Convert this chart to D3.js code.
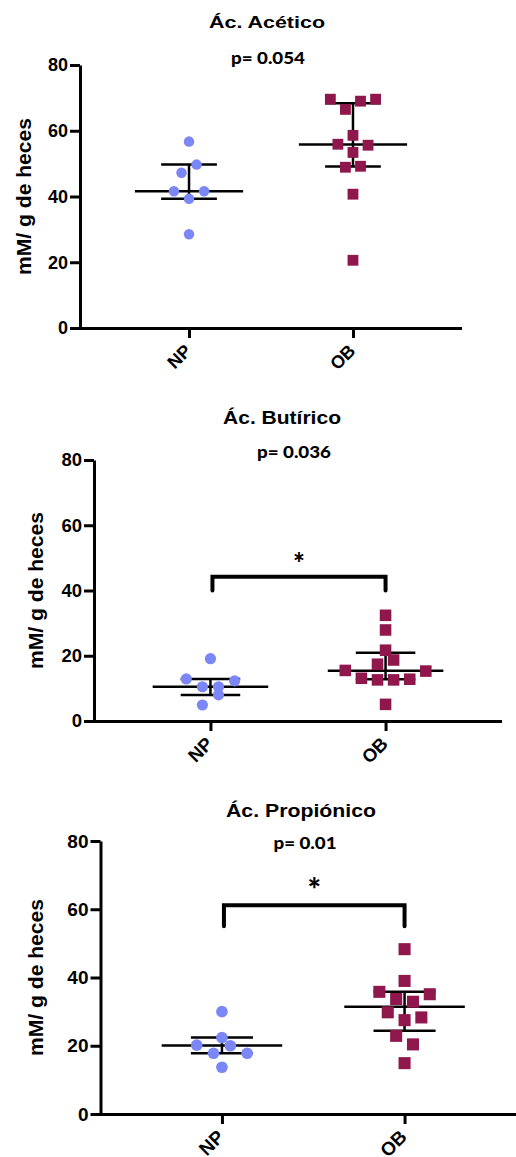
<!DOCTYPE html>
<html>
<head>
<meta charset="utf-8">
<script src="https://cdn.jsdelivr.net/npm/d3@7"></script>
<style>
body { margin: 0; background: #fff; }
svg { display: block; }
text { font-family: "Liberation Sans", Arial, sans-serif; font-weight: bold; fill: #000; }
</style>
</head>
<body>
<div id="chart"></div>
<script>
// Groups and axis ticks
const groups = ["NP", "OB"];
const yTicks = [0, 20, 40, 60, 80];
const titles = ["Ác. Acético", "Ác. Butírico", "Ác. Propiónico"];
const pLabels = ["p= 0.054", "p= 0.036", "p= 0.01"];
const starLabels = ["", "*", "*"];
const yLabel = "mM/ g de heces";

// Individual values (mM/ g de heces)
const aceticoNP = [41.6, 39.3, 41.6, 47.2, 49.7, 56.7, 28.5];
const aceticoOB = [69.6, 66.5, 69.0, 69.6, 58.6, 55.9, 53.4, 55.6, 48.9, 49.2, 40.7, 20.6];
const butiricoNP = [19.1, 12.9, 10.5, 10.5, 12.3, 4.9, 8.0];
const butiricoOB = [32.4, 27.9, 21.7, 17.4, 18.7, 15.5, 13.1, 12.6, 12.6, 12.8, 15.3, 5.1];
const propionicoNP = [30.0, 22.4, 20.2, 17.8, 20.0, 17.8, 13.7];
const propionicoOB = [48.3, 39.0, 35.8, 33.7, 32.9, 35.1, 29.8, 27.5, 28.3, 22.9, 20.4, 14.9];

// Median and interquartile range, [NP, OB] per panel
const medians = [[41.6, 55.8], [10.5, 15.4], [20.1, 31.4]];
const q1 = [[39.3, 49.1], [8.0, 12.8], [17.8, 24.4]];
const q3 = [[49.7, 68.4], [12.9, 20.9], [22.4, 35.8]];

const series = [[aceticoNP, aceticoOB], [butiricoNP, butiricoOB], [propionicoNP, propionicoOB]];

// Panel layout (pixels)
const panels = [
    { left: 80, right: 462, top: 65, bottom: 328, titleX: 267, titleY: 28, titleW: 116, titleSize: 16.5,
      pX: 268, pY: 64, pW: 74, labelX: 31, font: 18 },
    { left: 94, right: 502, top: 460, bottom: 721, titleX: 282, titleY: 424, titleW: 118, titleSize: 18,
      pX: 294, pY: 457.5, pW: 74, labelX: 43, font: 18.5, bracket: [44.2, 40], starSize: 28 },
    { left: 100.5, right: 526, top: 841, bottom: 1114, titleX: 301, titleY: 816.5, titleW: 150, titleSize: 18,
      pX: 305, pY: 849, pW: 63, labelX: 43, font: 19, bracket: [61.2, 55], starSize: 32 }
];

const colors = { NP: "#7c87f7", OB: "#8f174c" };

const width = 516, height = 1157;

const svg = d3.select('#chart')
    .append('svg')
    .attr('width', width)
    .attr('height', height)
    .attr('viewBox', [0, 0, width, height]);

// Spread points that sit on the same row around the group centre
function spread(values, y, size, gap) {
    const idx = d3.range(values.length)
        .sort((a, b) => d3.ascending(values[a], values[b]) || a - b);
    const offsets = new Array(values.length).fill(0);
    let i = 0;
    while (i < idx.length) {
        const base = y(values[idx[i]]);
        let j = i;
        while (j < idx.length && base - y(values[idx[j]]) < size) j++;
        const row = idx.slice(i, j).sort((a, b) => a - b);
        row.forEach((k, n) => { offsets[k] = (n - (row.length - 1) / 2) * gap; });
        i = j;
    }
    return offsets;
}

panels.forEach((p, pi) => {
    const g = svg.append('g');

    const x = d3.scalePoint()
        .domain(groups)
        .range([p.left, p.right])
        .padding(0.665);

    const y = d3.scaleLinear()
        .domain([0, 80])
        .range([p.bottom, p.top]);

    const step = x.step();
    const r = step * 0.032;
    const side = step * 0.066;
    const gap = step * 0.092;

    // Title and p-value
    g.append('text')
        .attr('x', p.titleX)
        .attr('y', p.titleY)
        .attr('text-anchor', 'middle')
        .attr('font-size', p.titleSize)
        .attr('textLength', p.titleW)
        .attr('lengthAdjust', 'spacingAndGlyphs')
        .text(titles[pi]);

    g.append('text')
        .attr('x', p.pX)
        .attr('y', p.pY)
        .attr('text-anchor', 'middle')
        .attr('font-size', 17)
        .attr('textLength', p.pW)
        .attr('lengthAdjust', 'spacingAndGlyphs')
        .style('font-family', 'Lato, "Open Sans", sans-serif')
        .style('font-weight', 900)
        .text(pLabels[pi]);

    // Y axis
    const yAxis = g.append('g')
        .attr('transform', `translate(${p.left},0)`)
        .call(d3.axisLeft(y).tickValues(yTicks).tickSize(10).tickSizeOuter(0).tickPadding(2));
    yAxis.selectAll('path, line').attr('stroke', '#000').attr('stroke-width', 3);
    yAxis.selectAll('text')
        .attr('font-size', p.font)
        .style('font-family', '"Liberation Sans", Arial, sans-serif')
        .style('font-weight', 'bold');

    // X axis
    const xAxis = g.append('g')
        .attr('transform', `translate(0,${p.bottom})`)
        .call(d3.axisBottom(x).tickSize(10).tickSizeOuter(0));
    xAxis.selectAll('path, line').attr('stroke', '#000').attr('stroke-width', 3);
    xAxis.select('path').attr('d', `M${p.left - 1.5},0.5H${p.right}`);
    xAxis.selectAll('text').remove();
    xAxis.selectAll('.tick')
        .append('text')
        .attr('transform', 'translate(3,24) rotate(-45)')
        .attr('text-anchor', 'end')
        .attr('font-size', p.font)
        .style('font-family', '"Liberation Sans", Arial, sans-serif')
        .style('font-weight', 'bold')
        .text(d => d);

    // Y label
    g.append('text')
        .attr('transform', `translate(${p.labelX},${(p.top + p.bottom) / 2}) rotate(-90)`)
        .attr('text-anchor', 'middle')
        .attr('font-size', 20.5)
        .attr('textLength', 157)
        .attr('lengthAdjust', 'spacingAndGlyphs')
        .text(yLabel);

    // Significance bracket
    if (p.bracket) {
        const [top, foot] = p.bracket;
        const x0 = x(groups[0]) + 2, x1 = x(groups[1]);
        g.append('path')
            .attr('d', `M${x0},${y(foot)}V${y(top)}H${x1}V${y(foot)}`)
            .attr('fill', 'none')
            .attr('stroke', '#000')
            .attr('stroke-width', 4)
            .attr('stroke-linecap', 'round')
            .attr('stroke-linejoin', 'miter');
        g.append('text')
            .attr('x', (x0 + x1) / 2)
            .attr('y', y(top) - 4)
            .attr('text-anchor', 'middle')
            .attr('font-size', p.starSize)
            .style('font-family', 'Lato, "Open Sans", sans-serif')
            .style('font-weight', 900)
            .text(starLabels[pi]);
    }

    // Median and interquartile range
    groups.forEach((grp, gi) => {
        const cx = x(grp);
        const lines = g.append('g').attr('stroke', '#000').attr('stroke-width', 2.5);
        lines.append('line')
            .attr('x1', cx - step * 0.33).attr('x2', cx + step * 0.33)
            .attr('y1', y(medians[pi][gi])).attr('y2', y(medians[pi][gi]));
        [q1[pi][gi], q3[pi][gi]].forEach(v => {
            lines.append('line')
                .attr('x1', cx - step * 0.17).attr('x2', cx + step * 0.17)
                .attr('y1', y(v)).attr('y2', y(v));
        });
        lines.append('line')
            .attr('x1', cx).attr('x2', cx)
            .attr('y1', y(q1[pi][gi])).attr('y2', y(q3[pi][gi]));
    });

    // Points
    const npVals = series[pi][0];
    const npOff = spread(npVals, y, 2 * r * 1.1, gap);
    g.append('g')
        .selectAll('circle')
        .data(npVals)
        .enter()
        .append('circle')
        .attr('cx', (d, i) => x('NP') + npOff[i])
        .attr('cy', d => y(d))
        .attr('r', r)
        .attr('fill', colors.NP);

    const obVals = series[pi][1];
    const obOff = spread(obVals, y, side * 1.1, gap);
    g.append('g')
        .selectAll('rect')
        .data(obVals)
        .enter()
        .append('rect')
        .attr('x', (d, i) => x('OB') + obOff[i] - side / 2)
        .attr('y', d => y(d) - side / 2)
        .attr('width', side)
        .attr('height', side)
        .attr('fill', colors.OB);
});
</script>
</body>
</html>
